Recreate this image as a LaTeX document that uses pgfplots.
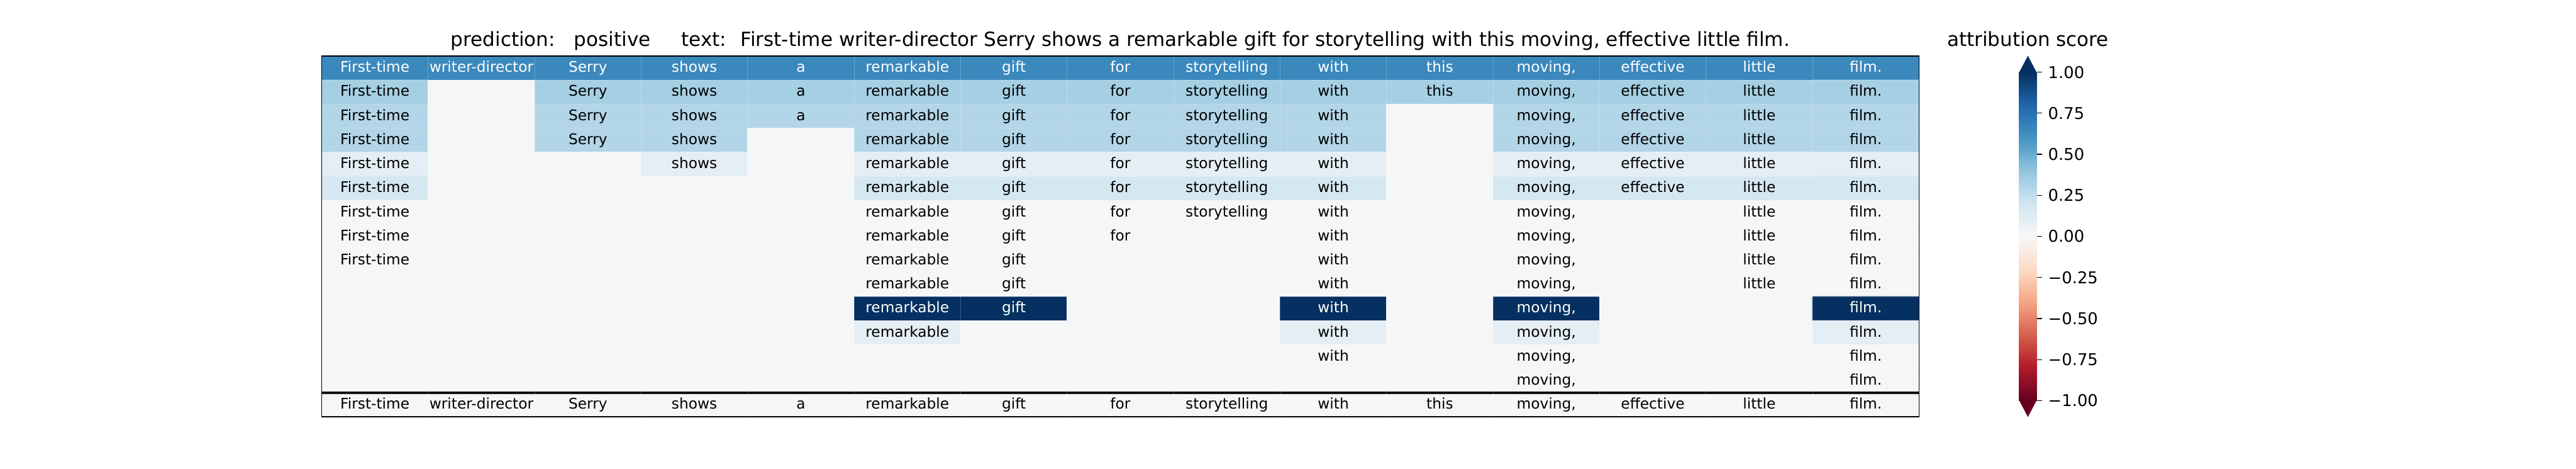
\documentclass[border=0pt]{standalone}
\usepackage{fontspec}
\setmainfont{DejaVu Sans}
\usepackage{pgfplots}
\usepackage{pgfplotstable}
\pgfplotsset{compat=1.18}
\pgfplotsset{colormap={rdbu}{rgb255=(103,0,31) rgb255=(178,24,43) rgb255=(214,96,77) rgb255=(244,165,130) rgb255=(253,219,199) rgb255=(247,247,247) rgb255=(209,229,240) rgb255=(146,197,222) rgb255=(67,147,195) rgb255=(33,102,172) rgb255=(5,48,97)}}
\definecolor{cbtop}{RGB}{5,48,97}
\definecolor{cbbot}{RGB}{103,0,31}

% attribution scores: x = token column centre, y = row centre (row 1 at top)
\pgfplotstableread{
x y c
0.5 0.5 0.65
1.5 0.5 0.65
2.5 0.5 0.65
3.5 0.5 0.65
4.5 0.5 0.65
5.5 0.5 0.65
6.5 0.5 0.65
7.5 0.5 0.65
8.5 0.5 0.65
9.5 0.5 0.65
10.5 0.5 0.65
11.5 0.5 0.65
12.5 0.5 0.65
13.5 0.5 0.65
14.5 0.5 0.65
0.5 1.5 0.34
1.5 1.5 0.01
2.5 1.5 0.34
3.5 1.5 0.34
4.5 1.5 0.34
5.5 1.5 0.34
6.5 1.5 0.34
7.5 1.5 0.34
8.5 1.5 0.34
9.5 1.5 0.34
10.5 1.5 0.34
11.5 1.5 0.34
12.5 1.5 0.34
13.5 1.5 0.34
14.5 1.5 0.34
0.5 2.5 0.30
1.5 2.5 0.01
2.5 2.5 0.30
3.5 2.5 0.30
4.5 2.5 0.30
5.5 2.5 0.30
6.5 2.5 0.30
7.5 2.5 0.30
8.5 2.5 0.30
9.5 2.5 0.30
10.5 2.5 0.01
11.5 2.5 0.30
12.5 2.5 0.30
13.5 2.5 0.30
14.5 2.5 0.30
0.5 3.5 0.30
1.5 3.5 0.01
2.5 3.5 0.30
3.5 3.5 0.30
4.5 3.5 0.01
5.5 3.5 0.30
6.5 3.5 0.30
7.5 3.5 0.30
8.5 3.5 0.30
9.5 3.5 0.30
10.5 3.5 0.01
11.5 3.5 0.30
12.5 3.5 0.30
13.5 3.5 0.30
14.5 3.5 0.30
0.5 4.5 0.10
1.5 4.5 0.01
2.5 4.5 0.01
3.5 4.5 0.10
4.5 4.5 0.01
5.5 4.5 0.10
6.5 4.5 0.10
7.5 4.5 0.10
8.5 4.5 0.10
9.5 4.5 0.10
10.5 4.5 0.01
11.5 4.5 0.10
12.5 4.5 0.10
13.5 4.5 0.10
14.5 4.5 0.10
0.5 5.5 0.18
1.5 5.5 0.01
2.5 5.5 0.01
3.5 5.5 0.01
4.5 5.5 0.01
5.5 5.5 0.18
6.5 5.5 0.18
7.5 5.5 0.18
8.5 5.5 0.18
9.5 5.5 0.18
10.5 5.5 0.01
11.5 5.5 0.18
12.5 5.5 0.18
13.5 5.5 0.18
14.5 5.5 0.18
0.5 6.5 0.01
1.5 6.5 0.01
2.5 6.5 0.01
3.5 6.5 0.01
4.5 6.5 0.01
5.5 6.5 0.01
6.5 6.5 0.01
7.5 6.5 0.01
8.5 6.5 0.01
9.5 6.5 0.01
10.5 6.5 0.01
11.5 6.5 0.01
12.5 6.5 0.01
13.5 6.5 0.01
14.5 6.5 0.01
0.5 7.5 0.01
1.5 7.5 0.01
2.5 7.5 0.01
3.5 7.5 0.01
4.5 7.5 0.01
5.5 7.5 0.01
6.5 7.5 0.01
7.5 7.5 0.01
8.5 7.5 0.01
9.5 7.5 0.01
10.5 7.5 0.01
11.5 7.5 0.01
12.5 7.5 0.01
13.5 7.5 0.01
14.5 7.5 0.01
0.5 8.5 0.01
1.5 8.5 0.01
2.5 8.5 0.01
3.5 8.5 0.01
4.5 8.5 0.01
5.5 8.5 0.01
6.5 8.5 0.01
7.5 8.5 0.01
8.5 8.5 0.01
9.5 8.5 0.01
10.5 8.5 0.01
11.5 8.5 0.01
12.5 8.5 0.01
13.5 8.5 0.01
14.5 8.5 0.01
0.5 9.5 0.01
1.5 9.5 0.01
2.5 9.5 0.01
3.5 9.5 0.01
4.5 9.5 0.01
5.5 9.5 0.01
6.5 9.5 0.01
7.5 9.5 0.01
8.5 9.5 0.01
9.5 9.5 0.01
10.5 9.5 0.01
11.5 9.5 0.01
12.5 9.5 0.01
13.5 9.5 0.01
14.5 9.5 0.01
0.5 10.5 0.01
1.5 10.5 0.01
2.5 10.5 0.01
3.5 10.5 0.01
4.5 10.5 0.01
5.5 10.5 1.00
6.5 10.5 1.00
7.5 10.5 0.01
8.5 10.5 0.01
9.5 10.5 1.00
10.5 10.5 0.01
11.5 10.5 1.00
12.5 10.5 0.01
13.5 10.5 0.01
14.5 10.5 1.00
0.5 11.5 0.01
1.5 11.5 0.01
2.5 11.5 0.01
3.5 11.5 0.01
4.5 11.5 0.01
5.5 11.5 0.10
6.5 11.5 0.01
7.5 11.5 0.01
8.5 11.5 0.01
9.5 11.5 0.10
10.5 11.5 0.01
11.5 11.5 0.10
12.5 11.5 0.01
13.5 11.5 0.01
14.5 11.5 0.10
0.5 12.5 0.01
1.5 12.5 0.01
2.5 12.5 0.01
3.5 12.5 0.01
4.5 12.5 0.01
5.5 12.5 0.01
6.5 12.5 0.01
7.5 12.5 0.01
8.5 12.5 0.01
9.5 12.5 0.01
10.5 12.5 0.01
11.5 12.5 0.01
12.5 12.5 0.01
13.5 12.5 0.01
14.5 12.5 0.01
0.5 13.5 0.01
1.5 13.5 0.01
2.5 13.5 0.01
3.5 13.5 0.01
4.5 13.5 0.01
5.5 13.5 0.01
6.5 13.5 0.01
7.5 13.5 0.01
8.5 13.5 0.01
9.5 13.5 0.01
10.5 13.5 0.01
11.5 13.5 0.01
12.5 13.5 0.01
13.5 13.5 0.01
14.5 13.5 0.01
0.5 14.5 0.01
1.5 14.5 0.01
2.5 14.5 0.01
3.5 14.5 0.01
4.5 14.5 0.01
5.5 14.5 0.01
6.5 14.5 0.00
7.5 14.5 0.01
8.5 14.5 0.01
9.5 14.5 0.00
10.5 14.5 0.01
11.5 14.5 0.01
12.5 14.5 0.00
13.5 14.5 0.01
14.5 14.5 0.01
}\heat

\pgfplotstableread{
x y w
0.5 0.5 First-time
1.5 0.5 writer-director
2.5 0.5 Serry
3.5 0.5 shows
4.5 0.5 a
5.5 0.5 remarkable
6.5 0.5 gift
7.5 0.5 for
8.5 0.5 storytelling
9.5 0.5 with
10.5 0.5 this
11.5 0.5 moving,
12.5 0.5 effective
13.5 0.5 little
14.5 0.5 film.
5.5 10.5 remarkable
6.5 10.5 gift
9.5 10.5 with
11.5 10.5 moving,
14.5 10.5 film.
}\whitelabels

\pgfplotstableread{
x y w
0.5 1.5 First-time
2.5 1.5 Serry
3.5 1.5 shows
4.5 1.5 a
5.5 1.5 remarkable
6.5 1.5 gift
7.5 1.5 for
8.5 1.5 storytelling
9.5 1.5 with
10.5 1.5 this
11.5 1.5 moving,
12.5 1.5 effective
13.5 1.5 little
14.5 1.5 film.
0.5 2.5 First-time
2.5 2.5 Serry
3.5 2.5 shows
4.5 2.5 a
5.5 2.5 remarkable
6.5 2.5 gift
7.5 2.5 for
8.5 2.5 storytelling
9.5 2.5 with
11.5 2.5 moving,
12.5 2.5 effective
13.5 2.5 little
14.5 2.5 film.
0.5 3.5 First-time
2.5 3.5 Serry
3.5 3.5 shows
5.5 3.5 remarkable
6.5 3.5 gift
7.5 3.5 for
8.5 3.5 storytelling
9.5 3.5 with
11.5 3.5 moving,
12.5 3.5 effective
13.5 3.5 little
14.5 3.5 film.
0.5 4.5 First-time
3.5 4.5 shows
5.5 4.5 remarkable
6.5 4.5 gift
7.5 4.5 for
8.5 4.5 storytelling
9.5 4.5 with
11.5 4.5 moving,
12.5 4.5 effective
13.5 4.5 little
14.5 4.5 film.
0.5 5.5 First-time
5.5 5.5 remarkable
6.5 5.5 gift
7.5 5.5 for
8.5 5.5 storytelling
9.5 5.5 with
11.5 5.5 moving,
12.5 5.5 effective
13.5 5.5 little
14.5 5.5 film.
0.5 6.5 First-time
5.5 6.5 remarkable
6.5 6.5 gift
7.5 6.5 for
8.5 6.5 storytelling
9.5 6.5 with
11.5 6.5 moving,
13.5 6.5 little
14.5 6.5 film.
0.5 7.5 First-time
5.5 7.5 remarkable
6.5 7.5 gift
7.5 7.5 for
9.5 7.5 with
11.5 7.5 moving,
13.5 7.5 little
14.5 7.5 film.
0.5 8.5 First-time
5.5 8.5 remarkable
6.5 8.5 gift
9.5 8.5 with
11.5 8.5 moving,
13.5 8.5 little
14.5 8.5 film.
5.5 9.5 remarkable
6.5 9.5 gift
9.5 9.5 with
11.5 9.5 moving,
13.5 9.5 little
14.5 9.5 film.
5.5 11.5 remarkable
9.5 11.5 with
11.5 11.5 moving,
14.5 11.5 film.
9.5 12.5 with
11.5 12.5 moving,
14.5 12.5 film.
11.5 13.5 moving,
14.5 13.5 film.
0.5 14.5 First-time
1.5 14.5 writer-director
2.5 14.5 Serry
3.5 14.5 shows
4.5 14.5 a
5.5 14.5 remarkable
6.5 14.5 gift
7.5 14.5 for
8.5 14.5 storytelling
9.5 14.5 with
10.5 14.5 this
11.5 14.5 moving,
12.5 14.5 effective
13.5 14.5 little
14.5 14.5 film.
}\blacklabels

\pgfplotstableread{
x y
0 -1
1 -1
0 -0.8
1 -0.8
0 -0.6
1 -0.6
0 -0.4
1 -0.4
0 -0.2
1 -0.2
0 0
1 0
0 0.2
1 0.2
0 0.4
1 0.4
0 0.6
1 0.6
0 0.8
1 0.8
0 1
1 1
}\cbar

\begin{document}
\begin{tikzpicture}
\path[use as bounding box, fill=white] (0,0) rectangle (1584pt,288pt);

\begin{axis}[
  at={(197.8pt,31.9pt)}, anchor=south west,
  scale only axis, width=982.2pt, height=221.7pt,
  xmin=0, xmax=15, ymin=0, ymax=15, y dir=reverse,
  enlargelimits=false, clip=false, axis on top,
  xtick={1,...,14}, ytick={1,...,14}, xticklabels={}, yticklabels={},
  major tick length=0pt, grid=major,
  major grid style={white, opacity=0.22, line width=0.3pt},
  axis line style={line width=0.55pt},
  colormap name=rdbu, point meta min=-1, point meta max=1,
]
\addplot[matrix plot*, mesh/cols=15, point meta=explicit] table[x=x, y=y, meta=c] \heat;
\addplot[only marks, mark=*, mark size=0pt, mark options={draw=none, fill=none},
  point meta=explicit symbolic, nodes near coords={\pgfplotspointmeta},
  nodes near coords style={font=\fontsize{9}{11}\selectfont, text=white, anchor=base, yshift=-2.57pt, inner sep=0pt}]
  table[x=x, y=y, meta=w] \whitelabels;
\addplot[only marks, mark=*, mark size=0pt, mark options={draw=none, fill=none},
  point meta=explicit symbolic, nodes near coords={\pgfplotspointmeta},
  nodes near coords style={font=\fontsize{9}{11}\selectfont, text=black, anchor=base, yshift=-2.57pt, inner sep=0pt}]
  table[x=x, y=y, meta=w] \blacklabels;
\addplot[black, line width=0.8pt, forget plot] coordinates {(0,0) (15,0)};
\addplot[black, line width=1.5pt, forget plot] coordinates {(0,14) (15,14)};
\addplot[black, line width=0.8pt, forget plot] coordinates {(0,15) (15,15)};
\end{axis}

\begin{axis}[
  at={(1241.4pt,31.8pt)}, anchor=south west,
  scale only axis, width=11.1pt, height=221.96pt,
  xmin=0, xmax=1, ymin=-1.1, ymax=1.1, enlargelimits=false, clip=false,
  axis line style={draw=none},
  xtick=\empty,
  ytick={-1,-0.75,-0.5,-0.25,0,0.25,0.5,0.75,1},
  yticklabels={−1.00,−0.75,−0.50,−0.25,0.00,0.25,0.50,0.75,1.00},
  ytick pos=right, tick align=outside, major tick length=3.1pt,
  tick style={black, line width=0.5pt},
  yticklabel style={font=\fontsize{10}{12}\selectfont, anchor=west, inner sep=0pt, xshift=3.6pt},
  colormap name=rdbu, point meta min=-1, point meta max=1,
]
\addplot[surf, shader=interp, mesh/cols=2, point meta=y] table[x=x, y=y] \cbar;
\addplot[fill=cbtop, draw=none, forget plot] coordinates {(0,0.995) (0.5,1.1) (1,0.995)} -- cycle;
\addplot[fill=cbbot, draw=none, forget plot] coordinates {(0,-0.995) (0.5,-1.1) (1,-0.995)} -- cycle;
\end{axis}

\node[anchor=base, inner sep=0pt, font=\fontsize{12}{14}\selectfont] at (688.9pt,259.7pt)
  {prediction:\hspace{11.5pt}positive\hspace{19pt}text:\hspace{8.6pt}First-time writer-director Serry shows a remarkable gift for storytelling with this moving, effective little film.};
\node[anchor=base, inner sep=0pt, font=\fontsize{12}{14}\selectfont] at (1247pt,259.7pt) {attribution score};
\end{tikzpicture}
\end{document}
